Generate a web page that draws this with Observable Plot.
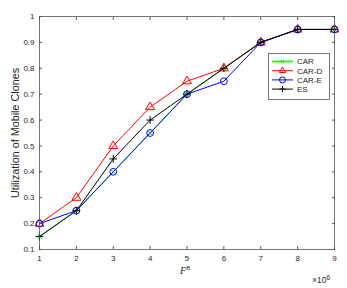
<!DOCTYPE html>
<html>
<head>
<meta charset="utf-8">
<script src="https://cdn.jsdelivr.net/npm/d3@7"></script>
<script src="https://cdn.jsdelivr.net/npm/@observablehq/plot@0.6"></script>
<style>
  html, body { margin: 0; padding: 0; background: #fff; }
  #wrap { position: relative; width: 347px; height: 288px; font-family: "Liberation Sans", Arial, sans-serif; }
  .ov { position: absolute; color: #262626; white-space: nowrap; }
  .ov sup { line-height: 0; }
</style>
</head>
<body>
<div id="wrap"></div>
<script>
const xValues = [1, 2, 3, 4, 5, 6, 7, 8, 9];
const CAR   = [0.15, 0.25, 0.40, 0.55, 0.70, 0.80, 0.90, 0.95, 0.95];
const CAR_D = [0.20, 0.30, 0.50, 0.65, 0.75, 0.80, 0.90, 0.95, 0.95];
const CAR_E = [0.20, 0.25, 0.40, 0.55, 0.70, 0.75, 0.90, 0.95, 0.95];
const ES    = [0.15, 0.25, 0.45, 0.60, 0.70, 0.80, 0.90, 0.95, 0.95];
const xTicks = [1, 2, 3, 4, 5, 6, 7, 8, 9];
const yTicks = [0.1, 0.2, 0.3, 0.4, 0.5, 0.6, 0.7, 0.8, 0.9, 1];

const seriesDefs = [
  {name: "CAR", values: CAR, color: "#00ff00", symbol: "times", r: 2.2},
  {name: "CAR-D", values: CAR_D, color: "#ff0000", symbol: "triangle", r: 3.3},
  {name: "CAR-E", values: CAR_E, color: "#0000ff", symbol: "circle", r: 3.4},
  {name: "ES", values: ES, color: "#000000", symbol: "plus", r: 2.6}
];

const marks = [];
for (const s of seriesDefs) {
  const data = xValues.map((x, i) => ({x, y: s.values[i]}));
  marks.push(Plot.line(data, {x: "x", y: "y", stroke: s.color, strokeWidth: 1}));
  marks.push(Plot.dot(data, {x: "x", y: "y", stroke: s.color, symbol: s.symbol, r: s.r, strokeWidth: 1, fill: "none"}));
}

const axisColor = "#262626";
const chart = Plot.plot({
  width: 347,
  height: 288,
  marginLeft: 39,
  marginRight: 13,
  marginTop: 16,
  marginBottom: 39,
  style: {fontFamily: "Liberation Sans, Arial, sans-serif", fontSize: "8px", color: axisColor, background: "#fff"},
  x: {domain: [1, 9]},
  y: {domain: [0.1, 1]},
  marks: [
    ...marks,
    Plot.frame({stroke: "#555", strokeWidth: 0.8}),
    Plot.axisX({anchor: "bottom", ticks: xTicks, tickSize: -3, tickPadding: 9, tickFormat: d => String(d), label: null, stroke: "#555", fill: axisColor}),
    Plot.axisX({anchor: "top", ticks: xTicks, tickSize: -3, tickFormat: () => "", label: null, stroke: "#555"}),
    Plot.axisY({anchor: "left", ticks: yTicks, tickSize: -3, tickPadding: 8, tickFormat: d => String(+d.toFixed(1)), label: "Utilization of Mobile Clones", labelAnchor: "center", labelArrow: "none", labelOffset: 28, stroke: "#555", fill: axisColor}),
    Plot.axisY({anchor: "right", ticks: yTicks, tickSize: -3, tickFormat: () => "", label: null, stroke: "#555"})
  ]
});

const wrap = document.getElementById("wrap");
wrap.appendChild(chart);
// style y label
chart.querySelectorAll("text").forEach(t => {
  if (t.textContent === "Utilization of Mobile Clones") t.style.fontSize = "10.8px";
});

// x axis label F^B
const xl = document.createElement("div");
xl.className = "ov";
xl.style.left = "180px"; xl.style.top = "266px";
xl.style.lineHeight = "9px";
xl.style.fontFamily = "'Liberation Serif', 'DejaVu Serif', serif";
xl.style.fontSize = "10px"; xl.style.fontStyle = "italic";
xl.innerHTML = 'F<sup style="font-size:6.5px;vertical-align:4px">B</sup>';
wrap.appendChild(xl);

// exponent
const ex = document.createElement("div");
ex.className = "ov";
ex.style.left = "312px"; ex.style.top = "276px";
ex.style.lineHeight = "9px";
ex.style.fontSize = "8.5px";
ex.innerHTML = '\u00d710<sup style="font-size:6.5px;vertical-align:3px">6</sup>';
wrap.appendChild(ex);

// legend
const ns = "http://www.w3.org/2000/svg";
const leg = document.createElementNS(ns, "svg");
leg.setAttribute("width", 62); leg.setAttribute("height", 47);
leg.style.position = "absolute"; leg.style.left = "268px"; leg.style.top = "53px";
const box = document.createElementNS(ns, "rect");
box.setAttribute("x", 0.5); box.setAttribute("y", 0.5); box.setAttribute("width", 61); box.setAttribute("height", 46);
box.setAttribute("fill", "#fff"); box.setAttribute("stroke", "#555"); box.setAttribute("stroke-width", 0.8);
leg.appendChild(box);
const symPaths = {
  times: r => `M${-r},${-r}L${r},${r}M${-r},${r}L${r},${-r}`,
  triangle: r => `M0,${-r}L${r*0.87},${r*0.5}L${-r*0.87},${r*0.5}Z`,
  circle: r => `M${r},0A${r},${r} 0 1,1 ${-r},0A${r},${r} 0 1,1 ${r},0`,
  plus: r => `M${-r},0L${r},0M0,${-r}L0,${r}`
};
seriesDefs.forEach((s, i) => {
  const y = 8.5 + i * 9.2;
  const ln = document.createElementNS(ns, "line");
  ln.setAttribute("x1", 4); ln.setAttribute("x2", 25); ln.setAttribute("y1", y); ln.setAttribute("y2", y);
  ln.setAttribute("stroke", s.color); ln.setAttribute("stroke-width", s.name === "CAR" ? 1.6 : 1);
  leg.appendChild(ln);
  const p = document.createElementNS(ns, "path");
  const rr = s.symbol === "circle" ? 3 : s.symbol === "triangle" ? 3.6 : s.symbol === "times" ? 1.6 : 3;
  p.setAttribute("d", symPaths[s.symbol](rr));
  p.setAttribute("transform", `translate(14.5,${y})`);
  p.setAttribute("fill", "none"); p.setAttribute("stroke", s.color); p.setAttribute("stroke-width", 1);
  leg.appendChild(p);
  const t = document.createElementNS(ns, "text");
  t.setAttribute("x", 29); t.setAttribute("y", y + 2.8);
  t.setAttribute("font-size", "8px"); t.setAttribute("fill", "#262626");
  t.setAttribute("font-family", "Liberation Sans, Arial, sans-serif");
  t.textContent = s.name;
  leg.appendChild(t);
});
wrap.appendChild(leg);
</script>
</body>
</html>
